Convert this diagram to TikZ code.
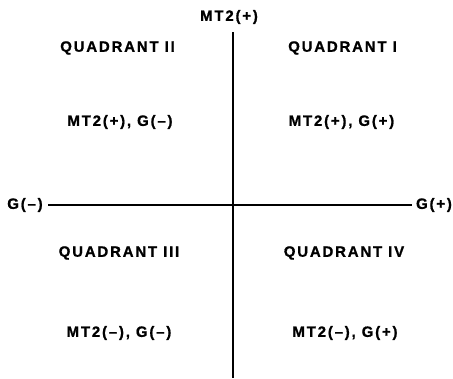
\documentclass[tikz,border=0pt]{standalone}
\usepackage{fontspec}
\setmainfont{Liberation Sans}[LetterSpace=12, BoldFeatures={FakeBold=1}]
\tikzset{
  lbl/.style={font=\bfseries\fontsize{15}{17}\selectfont, inner sep=1pt, anchor=center},
  axis/.style={line width=1.4pt, black}
}
\begin{document}
\begin{tikzpicture}[x=1pt,y=-1pt]
\useasboundingbox (0,0) rectangle (453,378);
\fill[white] (0,0) rectangle (453,378);
% axes
\coordinate (top) at (233,32);
\coordinate (bot) at (233,378);
\coordinate (lft) at (48,205);
\coordinate (rgt) at (412,205);
\draw[axis] (top) -- (bot);
\draw[axis] (lft) -- (rgt);
% axis labels
\node[lbl] (mtp) at (229,17) {MT2(+)};
\node[lbl] (gm) at (25,205) {G(–)};
\node[lbl] (gp) at (434,205) {G(+)};
% quadrants
\node[lbl] (q2) at (117.5,48) {QUADRANT II};
\node[lbl] (q1) at (342.5,48) {QUADRANT I};
\node[lbl] (q2t) at (120,122) {MT2(+), G(–)};
\node[lbl] (q1t) at (341.5,122) {MT2(+), G(+)};
\node[lbl] (q3) at (119,253) {QUADRANT III};
\node[lbl] (q4) at (344,253) {QUADRANT IV};
\node[lbl] (q3t) at (119,333) {MT2(–), G(–)};
\node[lbl] (q4t) at (345,333) {MT2(–), G(+)};
\end{tikzpicture}
\end{document}
